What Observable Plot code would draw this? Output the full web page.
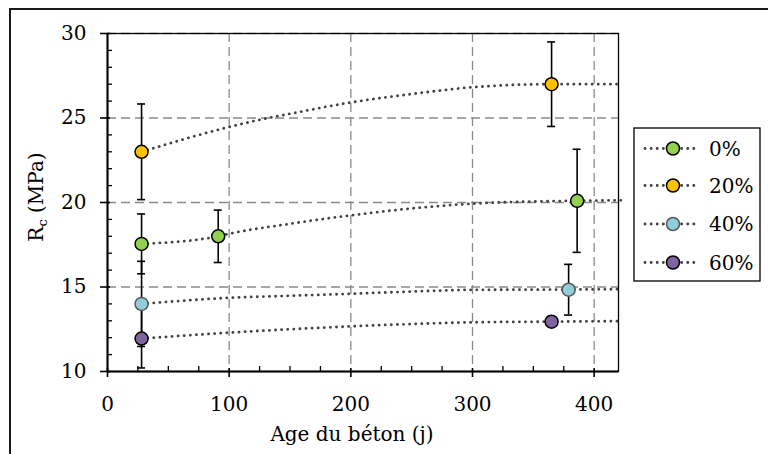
<!DOCTYPE html>
<html><head><meta charset="utf-8">
<script src="https://cdn.jsdelivr.net/npm/d3@7"></script>
<script src="https://cdn.jsdelivr.net/npm/@observablehq/plot@0.6"></script>
<style>body{margin:0;background:#fff;} svg{display:block}</style>
</head><body><div id="chart"></div>
<script>
// ---- data ----
const seriesNames = ["0%", "20%", "40%", "60%"];
const seriesColors = ["#92D050", "#FFC000", "#92CDDC", "#8064A2"];
const seriesOutlines = ["#000000", "#000000", "#595959", "#000000"];

// measured points (age in days, Rc in MPa, +/- error)
const ptSeries = ["0%", "0%", "0%", "20%", "20%", "40%", "40%", "60%", "60%"];
const ptAge    = [28, 91, 386, 28, 365, 28, 379, 28, 365];
const ptRc     = [17.55, 18.0, 20.1, 23.0, 27.0, 14.0, 14.84, 11.95, 12.95];
const ptErr    = [1.77, 1.55, 3.05, 2.83, 2.5, 2.52, 1.5, 1.74, 0.3];

// dotted trend curves
const trend0Age  = [28, 91, 100, 148, 200, 250, 300, 350, 386, 422];
const trend0Rc   = [17.55, 18.0, 18.15, 18.72, 19.24, 19.65, 19.93, 20.06, 20.1, 20.13];
const trend20Age = [28, 100, 132, 150, 200, 250, 300, 365, 422];
const trend20Rc  = [23.0, 24.47, 25.0, 25.25, 25.92, 26.42, 26.82, 27.0, 27.0];
const trend40Age = [28, 100, 150, 200, 250, 300, 379, 422];
const trend40Rc  = [14.0, 14.36, 14.48, 14.6, 14.73, 14.83, 14.85, 14.87];
const trend60Age = [28, 100, 150, 200, 250, 300, 365, 422];
const trend60Rc  = [11.95, 12.3, 12.5, 12.67, 12.81, 12.91, 12.95, 12.98];

const xDomain = [0, 420];
const yDomain = [10, 30];
const xTicks = [0, 100, 200, 300, 400];
const yTicks = [10, 15, 20, 25, 30];
const xMinor = [25, 50, 75, 125, 150, 175, 225, 250, 275, 325, 350, 375];
const yMinor = [11, 12, 13, 14, 16, 17, 18, 19, 21, 22, 23, 24, 26, 27, 28, 29];

const xLabel = "Age du béton (j)";
const yLabelMain = "R";
const yLabelSub = "c";
const yLabelRest = " (MPa)";

// ---- tables ----
const points = ptAge.map((a, i) => ({s: ptSeries[i], age: a, rc: ptRc[i], lo: ptRc[i] - ptErr[i], hi: ptRc[i] + ptErr[i]}));
const caps = points.flatMap(p => [{age: p.age, rc: p.lo}, {age: p.age, rc: p.hi}]);
const trendAges = [trend0Age, trend20Age, trend40Age, trend60Age];
const trendRcs = [trend0Rc, trend20Rc, trend40Rc, trend60Rc];
const trends = seriesNames.flatMap((s, k) => trendAges[k].map((a, i) => ({s, age: a, rc: trendRcs[k][i]})));
const outlineOf = s => seriesOutlines[seriesNames.indexOf(s)];

const FONT = "DejaVu Serif";
const FS = 20;
const TREND = "#424242";
const gridStyle = {stroke: "#8a8a8a", strokeOpacity: 1, strokeWidth: 1.3, strokeDasharray: "9,5"};

const plot = Plot.plot({
  width: 768, height: 454,
  marginLeft: 107, marginRight: 150, marginTop: 33, marginBottom: 83,
  style: {fontFamily: FONT, fontSize: FS + "px", background: "white", color: "black"},
  x: {domain: xDomain, axis: null},
  y: {domain: yDomain, axis: null},
  color: {domain: seriesNames, range: seriesColors},
  marks: [
    Plot.gridX(xTicks.filter(v => v > xDomain[0]), gridStyle),
    Plot.gridY(yTicks.filter(v => v > yDomain[0]), gridStyle),
    Plot.frame({stroke: "black", strokeWidth: 1.3}),
    Plot.line(trends, {x: "age", y: "rc", z: "s", stroke: TREND, strokeWidth: 2.8,
      strokeDasharray: "0.1,6", strokeLinecap: "round", curve: "monotone-x"}),
    Plot.ruleX(points, {x: "age", y1: "lo", y2: "hi", stroke: "black", strokeWidth: 1.6}),
    Plot.ruleY(caps, {y: "rc", x1: "age", x2: "age", insetLeft: -4, insetRight: -4, stroke: "black", strokeWidth: 1.6}),
    Plot.dot(points, {x: "age", y: "rc", r: 6.5, fill: "s", stroke: d => outlineOf(d.s), strokeWidth: 1.5}),
    // axis lines
    Plot.ruleX([xDomain[0]], {stroke: "black", strokeWidth: 2}),
    Plot.ruleY([yDomain[0]], {stroke: "black", strokeWidth: 2}),
    // ticks
    Plot.ruleY(yTicks, {y: d => d, x1: () => xDomain[0], x2: () => xDomain[0], insetLeft: -7, insetRight: -3, stroke: "black", strokeWidth: 1.6}),
    Plot.ruleY(yMinor, {y: d => d, x1: () => xDomain[0], x2: () => xDomain[0], insetLeft: 0, insetRight: -5, stroke: "black", strokeWidth: 1.3}),
    Plot.ruleX(xTicks, {x: d => d, y1: () => yDomain[0], y2: () => yDomain[0], insetTop: -3, insetBottom: -6, stroke: "black", strokeWidth: 1.6}),
    Plot.ruleX(xMinor, {x: d => d, y1: () => yDomain[0], y2: () => yDomain[0], insetTop: -5, insetBottom: 0, stroke: "black", strokeWidth: 1.3}),
    Plot.axisY({ticks: yTicks, tickSize: 0, tickPadding: 21, fontSize: FS, tickFormat: d => String(d), label: null}),
    Plot.axisX({ticks: xTicks, tickSize: 0, tickPadding: 25, fontSize: FS, tickFormat: d => String(d), label: null})
  ]
});

document.getElementById("chart").appendChild(plot);
const svg = d3.select(plot);

// outer chart border
svg.append("line").attr("x1", 10).attr("y1", 9).attr("x2", 10).attr("y2", 454).attr("stroke", "#1a1a1a").attr("stroke-width", 2);
svg.append("line").attr("x1", 9).attr("y1", 9).attr("x2", 768).attr("y2", 9).attr("stroke", "#1a1a1a").attr("stroke-width", 2);

// axis titles
svg.append("text").attr("x", 352).attr("y", 441).attr("text-anchor", "middle")
  .attr("font-family", FONT).attr("font-size", FS).attr("fill", "black").text(xLabel);
const yl = svg.append("text").attr("transform", "translate(43,197) rotate(-90)").attr("text-anchor", "middle")
  .attr("font-family", FONT).attr("font-size", FS).attr("fill", "black");
yl.append("tspan").text(yLabelMain);
yl.append("tspan").attr("font-size", 13).attr("dy", 4).text(yLabelSub);
yl.append("tspan").attr("dy", -4).text(yLabelRest);

// legend
const lg = svg.append("g");
lg.append("rect").attr("x", 634).attr("y", 128).attr("width", 126).attr("height", 153)
  .attr("fill", "white").attr("stroke", "black").attr("stroke-width", 1.3);
const legendY = [148.5, 185.5, 224, 262.5];
seriesNames.forEach((s, i) => {
  const cy = legendY[i];
  lg.append("line").attr("x1", 645).attr("x2", 697).attr("y1", cy).attr("y2", cy)
    .attr("stroke", TREND).attr("stroke-width", 2.8).attr("stroke-dasharray", "0.1,6").attr("stroke-linecap", "round");
  lg.append("circle").attr("cx", 673).attr("cy", cy).attr("r", 6.5)
    .attr("fill", seriesColors[i]).attr("stroke", seriesOutlines[i]).attr("stroke-width", 1.5);
  lg.append("text").attr("x", 709).attr("y", cy).attr("dy", "0.35em").attr("text-anchor", "start")
    .attr("font-family", FONT).attr("font-size", FS).attr("fill", "black").text(s);
});
</script>
</body></html>
